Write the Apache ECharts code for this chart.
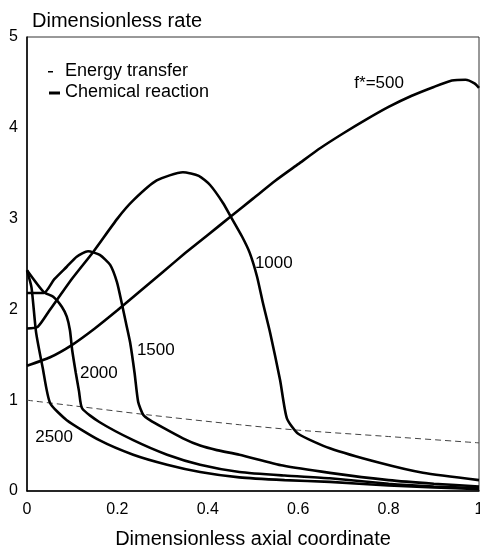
<!DOCTYPE html>
<html>
<head>
<meta charset="utf-8">
<script src="https://cdn.jsdelivr.net/npm/echarts@6/dist/echarts.min.js"></script>
<style>
  html, body { margin: 0; padding: 0; background: #fff; }
  #chart { width: 480px; height: 552px; }
</style>
</head>
<body>
<div id="chart"></div>
<script>
// Chemical reaction rate curves, [axial coordinate, rate]
const rate500 = [[0,1.38],[0.05,1.47],[0.1,1.61],[0.15,1.79],[0.2,1.99],[0.25,2.2],[0.3,2.41],[0.35,2.62],[0.4,2.82],[0.45,3.02],[0.5,3.22],[0.55,3.42],[0.6,3.6],[0.65,3.78],[0.7,3.94],[0.75,4.09],[0.8,4.23],[0.85,4.35],[0.9,4.45],[0.94,4.52],[0.97,4.53],[0.99,4.49],[1,4.44]];
const rate1000 = [[0,1.79],[0.024,1.81],[0.05,1.99],[0.1,2.34],[0.146,2.63],[0.2,3.0],[0.235,3.2],[0.287,3.42],[0.345,3.51],[0.38,3.47],[0.405,3.37],[0.434,3.17],[0.451,3.02],[0.476,2.8],[0.493,2.62],[0.509,2.36],[0.522,2.07],[0.538,1.74],[0.56,1.22],[0.575,0.8],[0.6,0.63],[0.67,0.47],[0.78,0.31],[0.876,0.2],[1,0.12]];
const rate1500 = [[0,2.18],[0.037,2.18],[0.06,2.33],[0.088,2.47],[0.11,2.58],[0.135,2.64],[0.161,2.6],[0.184,2.49],[0.199,2.3],[0.21,2.06],[0.219,1.85],[0.228,1.64],[0.238,1.3],[0.246,0.98],[0.257,0.84],[0.272,0.78],[0.3,0.7],[0.345,0.58],[0.383,0.5],[0.42,0.45],[0.47,0.4],[0.566,0.28],[0.67,0.2],[0.8,0.12],[0.9,0.08],[1,0.05]];
const rate2000 = [[0,2.43],[0.037,2.19],[0.058,2.14],[0.077,2.03],[0.088,1.92],[0.095,1.77],[0.1,1.55],[0.108,1.3],[0.115,1.1],[0.122,0.91],[0.16,0.76],[0.235,0.56],[0.31,0.4],[0.383,0.29],[0.47,0.21],[0.57,0.17],[0.67,0.14],[0.8,0.08],[0.9,0.05],[1,0.03]];
const rate2500 = [[0,2.43],[0.01,2.24],[0.02,1.75],[0.035,1.35],[0.051,0.97],[0.088,0.78],[0.16,0.56],[0.235,0.4],[0.31,0.29],[0.383,0.21],[0.47,0.15],[0.57,0.12],[0.67,0.1],[0.8,0.06],[0.9,0.04],[1,0.02]];

// Energy transfer (dashed)
const energy = [[0,1.0],[0.1,0.94],[0.265,0.84],[0.47,0.73],[0.6,0.67],[0.8,0.6],[1,0.53]];

// Curve labels
const labelText = ['f*=500', '1000', '1500', '2000', '2500'];
const labelX = [0.779, 0.546, 0.285, 0.159, 0.06];
const labelY = [4.49, 2.51, 1.55, 1.30, 0.59];

const FONT = 'Arial, "Liberation Sans", Helvetica, sans-serif';

const chart = echarts.init(document.getElementById('chart'), null, { renderer: 'canvas' });

const curve = (name, data) => ({
    name: name,
    type: 'line',
    data: data,
    smooth: 0.2,
    showSymbol: false,
    lineStyle: { color: '#000', width: 2.6 },
    z: 3
});

chart.setOption({
    backgroundColor: '#fff',
    animation: false,
    textStyle: { fontFamily: FONT, color: '#000' },
    grid: {
        left: 27, right: 1, top: 37, bottom: 61,
        outerBoundsMode: 'none',
        containLabel: false,
        show: true, borderColor: '#333', borderWidth: 1
    },
    xAxis: {
        type: 'value',
        min: 0, max: 1, interval: 0.2,
        name: 'Dimensionless axial coordinate',
        nameLocation: 'middle',
        nameGap: 38,
        nameTextStyle: { fontSize: 20, color: '#000', fontFamily: FONT },
        axisLine: { lineStyle: { color: '#000', width: 1.5 } },
        axisTick: { show: false },
        splitLine: { show: false },
        axisLabel: {
            fontSize: 16, color: '#000', margin: 11, fontFamily: FONT,
            formatter: v => (v === 0 || v === 1) ? String(v) : v.toFixed(1)
        }
    },
    yAxis: {
        type: 'value',
        min: 0, max: 5, interval: 1,
        name: 'Dimensionless rate',
        nameLocation: 'end',
        nameGap: 6,
        nameTextStyle: { fontSize: 20, color: '#000', align: 'left', padding: [0, 0, 0, 5], fontFamily: FONT },
        axisLine: { show: true, lineStyle: { color: '#000', width: 1.5 } },
        axisTick: { show: false },
        splitLine: { show: false },
        axisLabel: { fontSize: 16, color: '#000', margin: 9, fontFamily: FONT }
    },
    graphic: [
        // legend
        { type: 'rect', left: 48, top: 71, shape: { width: 5, height: 1.5 }, style: { fill: '#000' } },
        { type: 'text', left: 65, top: 62, style: { text: 'Energy transfer', fontSize: 18, fontFamily: FONT, fill: '#000' } },
        { type: 'rect', left: 49, top: 91.5, shape: { width: 11, height: 3 }, style: { fill: '#000' } },
        { type: 'text', left: 65, top: 83, style: { text: 'Chemical reaction', fontSize: 18, fontFamily: FONT, fill: '#000' } }
    ],
    series: [
        {
            name: 'Energy transfer',
            type: 'line',
            data: energy,
            smooth: 0.3,
            showSymbol: false,
            lineStyle: { color: '#444', width: 1, type: [6, 4] },
            z: 2
        },
        curve('500', rate500),
        curve('1000', rate1000),
        curve('1500', rate1500),
        curve('2000', rate2000),
        curve('2500', rate2500),
        {
            name: 'labels',
            type: 'scatter',
            symbolSize: 0,
            itemStyle: { opacity: 1 },
            data: labelX.map((x, i) => [x, labelY[i], labelText[i]]),
            label: {
                show: true,
                position: 'inside',
                formatter: p => p.data[2],
                fontSize: 17,
                color: '#000',
                fontFamily: FONT
            },
            z: 4
        }
    ]
});
</script>
</body>
</html>
